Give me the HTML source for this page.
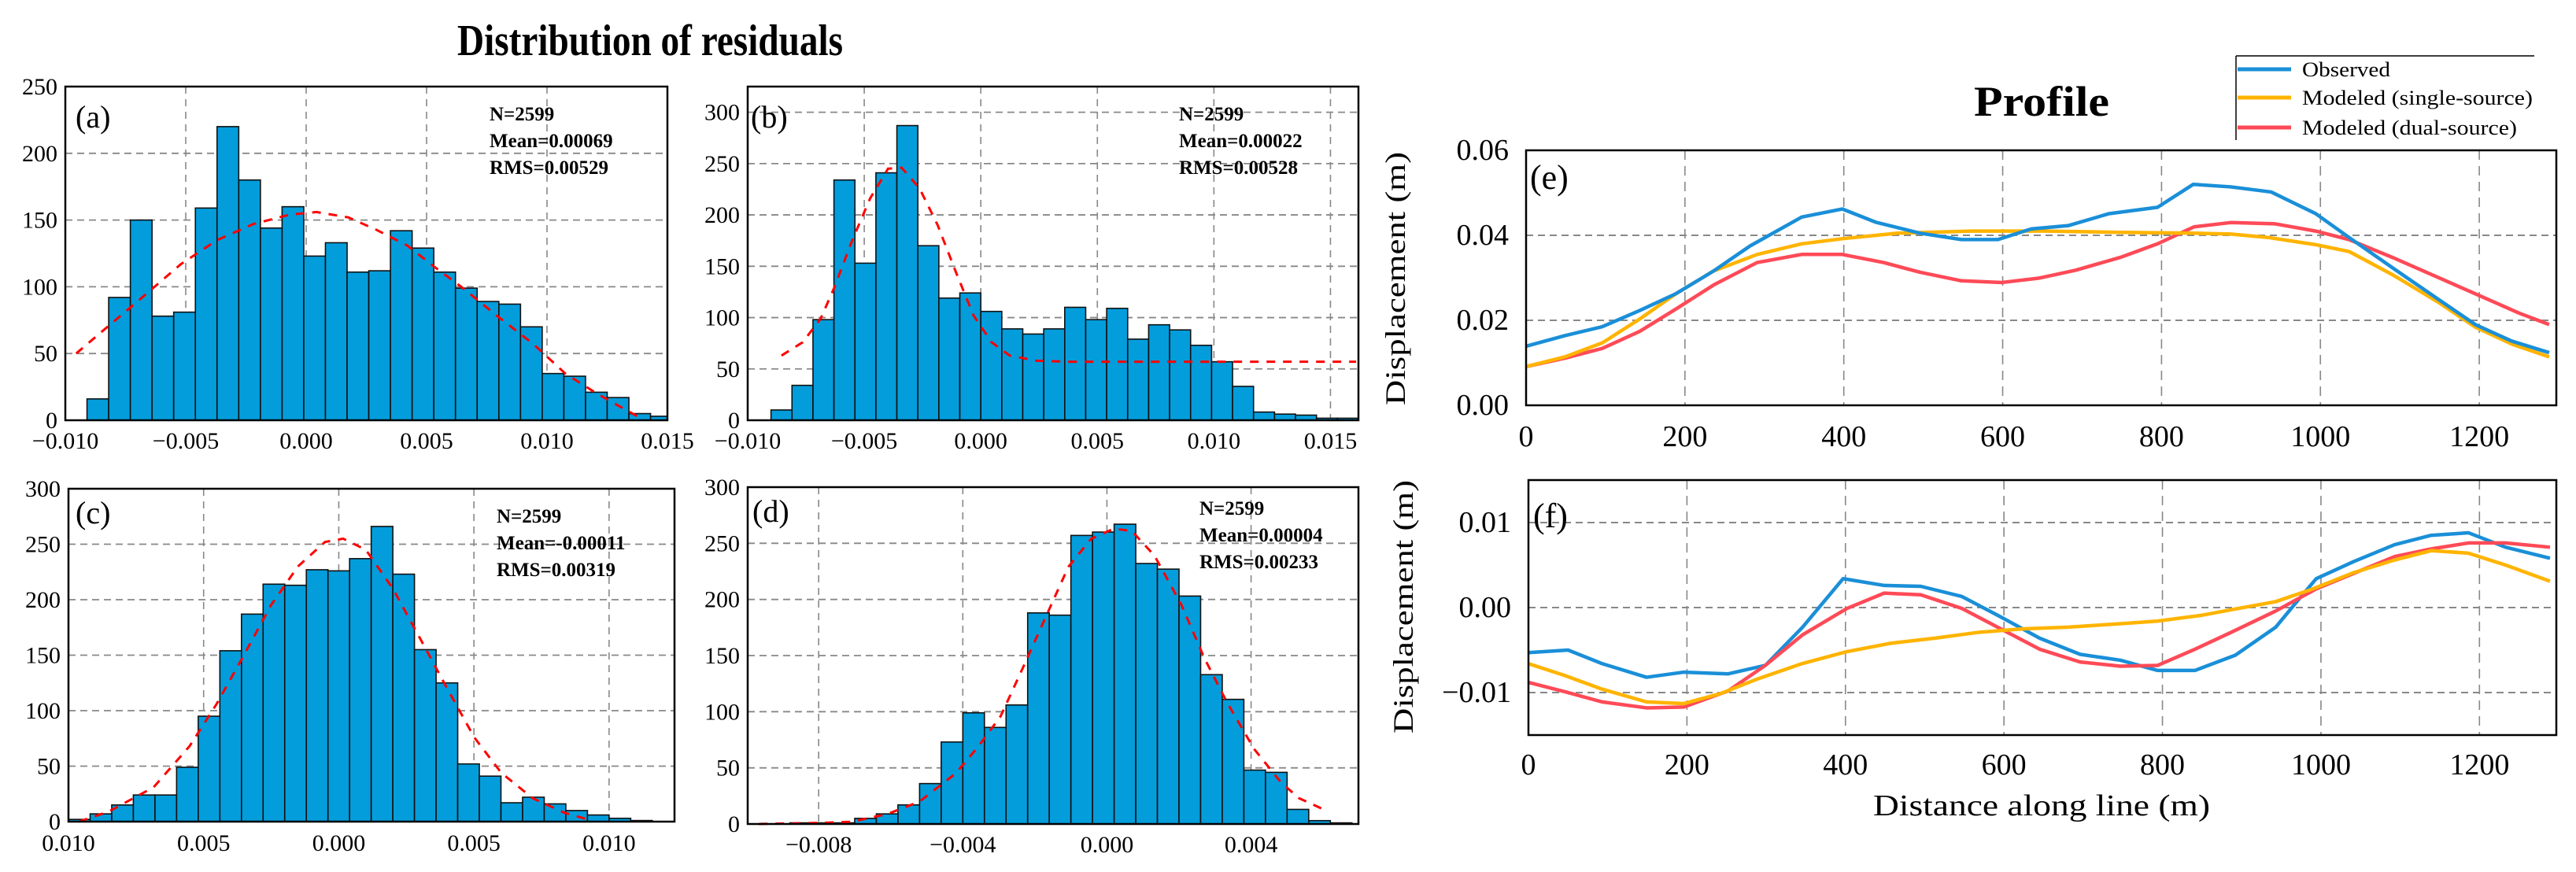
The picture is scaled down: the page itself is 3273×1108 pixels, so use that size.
<!DOCTYPE html>
<html><head><meta charset="utf-8"><style>
html,body{margin:0;padding:0;background:#fff;}
svg{display:block;font-family:"Liberation Serif",serif;}
</style></head><body>
<svg id="fig" width="3273" height="1108" viewBox="0 0 3273 1108" xmlns="http://www.w3.org/2000/svg">
<text x="826" y="70" font-size="56" font-weight="bold" text-anchor="middle" textLength="490" lengthAdjust="spacingAndGlyphs">Distribution of residuals</text>
<text x="2594" y="147" font-size="54" font-weight="bold" text-anchor="middle" textLength="172" lengthAdjust="spacingAndGlyphs">Profile</text>
<g id="legend">
<line x1="2841" y1="71" x2="3220" y2="71" stroke="#000" stroke-width="1.5"/>
<line x1="2841" y1="71" x2="2841" y2="178" stroke="#000" stroke-width="1.5"/>
<g><line x1="2843" y1="88" x2="2911" y2="88" stroke="#1a8fd8" stroke-width="5"/><text x="2925" y="97" font-size="26" textLength="112" lengthAdjust="spacingAndGlyphs">Observed</text></g>
<g><line x1="2843" y1="124" x2="2911" y2="124" stroke="#ffb400" stroke-width="5"/><text x="2925" y="133" font-size="26" textLength="293" lengthAdjust="spacingAndGlyphs">Modeled (single-source)</text></g>
<g><line x1="2843" y1="162" x2="2911" y2="162" stroke="#ff4a57" stroke-width="5"/><text x="2925" y="171" font-size="26" textLength="273" lengthAdjust="spacingAndGlyphs">Modeled (dual-source)</text></g>
</g>
<text transform="translate(1785,354) rotate(-90)" font-size="36" text-anchor="middle" textLength="322" lengthAdjust="spacingAndGlyphs">Displacement (m)</text>
<text transform="translate(1795,771) rotate(-90)" font-size="36" text-anchor="middle" textLength="322" lengthAdjust="spacingAndGlyphs">Displacement (m)</text>
<text x="2594" y="1036" font-size="38" text-anchor="middle" textLength="428" lengthAdjust="spacingAndGlyphs">Distance along line (m)</text>
</svg>
<script>
// ---- Panel (a) ----
const aCounts=[16,92,150,78,81,159,220,180,144,160,123,133,111,112,142,129,111,99,89,87,70,35,33,21,17,5,3];
const aBinStart=-0.0091, aBinWidth=0.0009;
const aCurveX=[-0.00955,-0.00838,-0.00707,-0.0052,-0.0037,-0.00219,-0.00069,0.00043,0.00175,0.00288,0.00419,0.00532,0.00644,0.00794,0.00944,0.01076,0.01207,0.01395];
const aCurveY=[50,68,88,117,135,147,154,156,152,143,131,115,100,78,57,35,20,1];
const aXTicks=[-0.010,-0.005,0,0.005,0.010,0.015];
const aXLabels=["\u22120.010","\u22120.005","0.000","0.005","0.010","0.015"];
const aYTicks=[0,50,100,150,200,250];
const aStats=["N=2599","Mean=0.00069","RMS=0.00529"];
// ---- Panel (b) ----
const bCounts=[10,34,98,234,153,241,287,170,119,124,106,89,84,89,110,98,109,79,93,88,73,57,33,8,6,5,2,2];
const bBinStart=-0.009, bBinWidth=0.0009;
const bCurveX=[-0.00855,-0.00764,-0.00687,-0.00629,-0.00552,-0.00475,-0.00398,-0.0034,-0.00263,-0.00185,-0.00108,-0.00031,0.00046,0.00124,0.00239,0.00375,0.0161];
const bCurveY=[63,76,99,129,175,216,245,246,226,190,145,102,76,63,58,57,57];
const bXTicks=[-0.010,-0.005,0,0.005,0.010,0.015];
const bXLabels=["\u22120.010","\u22120.005","0.000","0.005","0.010","0.015"];
const bYTicks=[0,50,100,150,200,250,300];
const bStats=["N=2599","Mean=0.00022","RMS=0.00528"];
// ---- Panel (c) ----
const cCounts=[2,7,15,24,24,49,95,154,187,214,213,227,226,237,266,223,155,125,52,41,17,22,16,10,6,3,1];
const cBinStart=-0.010, cBinWidth=0.0008;
const cCurveX=[-0.00961,-0.00852,-0.00685,-0.00552,-0.00452,-0.00351,-0.00251,-0.00151,-0.00051,0.00016,0.001,0.002,0.00301,0.00401,0.00501,0.00601,0.00718,0.00835,0.00935];
const cCurveY=[0,9,31,68,106,150,195,230,252,255,245,210,165,120,76,44,21,8,1];
const cXTicks=[-0.010,-0.005,0,0.005,0.010];
const cXLabels=["0.010","0.005","0.000","0.005","0.010"];
const cYTicks=[0,50,100,150,200,250,300];
const cStats=["N=2599","Mean=-0.00011","RMS=0.00319"];
// ---- Panel (d) ----
const dCounts=[1,1,1,5,9,17,36,73,99,86,106,188,186,257,260,267,232,227,203,133,111,48,46,13,3,1];
const dBinStart=-0.0088, dBinWidth=0.0006;
const dCurveX=[-0.00966,-0.00796,-0.00708,-0.00608,-0.0052,-0.0042,-0.00357,-0.00295,-0.00232,-0.00169,-0.00107,-0.00044,0.00019,0.00069,0.00132,0.00207,0.0027,0.00332,0.00408,0.00483,0.00533,0.00608];
const dCurveY=[0,1,2,9,20,45,69,96,140,185,229,254,263,261,239,195,148,109,67,37,23,12];
const dXTicks=[-0.008,-0.004,0,0.004];
const dXLabels=["\u22120.008","\u22120.004","0.000","0.004"];
const dYTicks=[0,50,100,150,200,250,300];
const dStats=["N=2599","Mean=0.00004","RMS=0.00233"];
// ---- Panel (e) ----
const eObsX=[0,49,96,143,189,236,282,347,398,440,496,548,594,636,683,734,795,840,887,938,994,1036,1092,1148,1195,1241,1288];
const eObsY=[13.9,16.4,18.5,22.3,26.3,31.6,37.5,44.3,46.2,43.1,40.5,39.0,39.0,41.5,42.3,45.1,46.6,52.0,51.4,50.2,45.1,39.5,32.2,25.0,19.0,15.1,12.4];
const eSingleX=[0,49,96,143,189,236,291,347,398,468,561,654,748,841,887,934,994,1036,1092,1148,1195,1241,1288];
const eSingleY=[9.1,11.4,14.7,20.3,26.3,31.6,35.5,38.0,39.2,40.5,41.0,41.0,40.7,40.5,40.3,39.5,37.8,36.2,30.6,24.3,18.4,14.4,11.4];
const eDualX=[0,49,96,143,189,236,291,347,398,450,496,548,599,645,692,748,795,841,887,943,994,1036,1092,1148,1204,1250,1288];
const eDualY=[9.1,11.1,13.4,17.4,22.7,28.3,33.6,35.5,35.5,33.6,31.3,29.3,28.9,29.9,31.8,34.8,38.0,42.0,43.0,42.7,41.0,39.0,34.7,30.1,25.5,21.7,19.0];
const eYTicks=[0,0.02,0.04,0.06];
const eYLabels=["0.00","0.02","0.04","0.06"];
// ---- Panel (f) ----
const fObsX=[0,50,93,149,196,252,299,346,397,449,495,547,598,645,696,747,794,841,892,943,966,994,1041,1093,1139,1186,1233,1289];
const fObsY=[-5.3,-5.0,-6.6,-8.2,-7.6,-7.8,-6.8,-2.3,3.4,2.6,2.5,1.3,-1.2,-3.6,-5.5,-6.2,-7.4,-7.4,-5.6,-2.3,0.3,3.4,5.4,7.4,8.5,8.8,7.1,5.8];
const fSingleX=[0,46,93,149,196,243,289,345,401,457,513,569,625,681,747,793,850,896,943,990,1041,1093,1139,1186,1233,1289];
const fSingleY=[-6.6,-8.0,-9.6,-11.1,-11.3,-10.1,-8.4,-6.6,-5.2,-4.2,-3.6,-2.9,-2.5,-2.3,-1.9,-1.6,-0.9,-0.1,0.7,2.2,4.1,5.6,6.7,6.4,5.0,3.1];
const fDualX=[0,46,93,149,196,252,299,346,402,449,495,547,598,645,696,747,794,841,887,943,994,1046,1093,1139,1186,1233,1289];
const fDualY=[-8.8,-9.9,-11.1,-11.8,-11.7,-9.8,-6.8,-3.2,-0.1,1.7,1.5,-0.1,-2.6,-4.9,-6.4,-6.9,-6.8,-4.9,-2.9,-0.4,2.2,4.2,6.0,6.9,7.6,7.6,7.1];
const fYTicks=[-0.01,0,0.01];
const fYLabels=["\u22120.01","0.00","0.01"];
const profXTicks=[0,200,400,600,800,1000,1200];

const NS="http://www.w3.org/2000/svg";
const svg=document.getElementById('fig');
function mk(tag,attrs,parent){const e=document.createElementNS(NS,tag);for(const k in attrs)e.setAttribute(k,attrs[k]);(parent||svg).appendChild(e);return e;}
function scale(d0,d1,r0,r1){return v=>r0+(v-d0)/(d1-d0)*(r1-r0);}

function hist(name,box,xd,yd,counts,binStart,binW,cx,cy,xt,xl,yt,stats,label,lblPos,statPos,xlabY){
  const g=mk('g',{});
  
  
  const X=scale(xd[0],xd[1],box[0],box[2]), Y=scale(yd[0],yd[1],box[3],box[1]);
  xt.forEach(v=>{const px=X(v);if(px>box[0]+3&&px<box[2]-3){const l=mk('line',{x1:px,y1:box[1],x2:px,y2:box[3],stroke:'#888','stroke-width':1.6,'stroke-dasharray':'9,7'},g);}});
  yt.forEach(v=>{const py=Y(v);if(py>box[1]+3&&py<box[3]-3){const l=mk('line',{x1:box[0],y1:py,x2:box[2],y2:py,stroke:'#888','stroke-width':1.8,'stroke-dasharray':'9,6'},g);}});
  counts.forEach((c,i)=>{const x0=X(binStart+i*binW),x1=Math.min(X(binStart+(i+1)*binW),box[2]);const r=mk('rect',{x:x0,y:Y(c),width:Math.max(0,x1-x0),height:box[3]-Y(c),fill:'#039ddc',stroke:'#111','stroke-width':1.6},g);});
  const pts=cx.map((v,i)=>X(v)+','+Y(cy[i])).join(' ');
  const pl=mk('polyline',{points:pts,fill:'none',stroke:'#ff0000','stroke-width':3,'stroke-dasharray':'11,10'},g);
  
  
  const fr=mk('rect',{x:box[0],y:box[1],width:box[2]-box[0],height:box[3]-box[1],fill:'none',stroke:'#000','stroke-width':2.5},g);
  
  
  xt.forEach((v,i)=>{const t=mk('text',{x:X(v),y:xlabY,'font-size':30,'text-anchor':'middle'},g);t.textContent=xl[i];});
  yt.forEach(v=>{const t=mk('text',{x:box[0]-10,y:Y(v)+10,'font-size':30,'text-anchor':'end'},g);t.textContent=String(v);});
  const lt=mk('text',{x:lblPos[0],y:lblPos[1],'font-size':40},g);lt.textContent=label;
  
  
  stats.forEach((s,i)=>{const t=mk('text',{x:statPos[0],y:statPos[1]+i*34,'font-size':25,'font-weight':'bold'},g);t.textContent=s;});
}

hist('histogram-a',[83,110,848,534],[-0.010,0.015],[0,250],aCounts,aBinStart,aBinWidth,aCurveX,aCurveY,aXTicks,aXLabels,aYTicks,aStats,'(a)',[96,162],[622,153],570);
hist('histogram-b',[950,110,1726,534],[-0.010,0.0162],[0,325],bCounts,bBinStart,bBinWidth,bCurveX,bCurveY,bXTicks,bXLabels,bYTicks,bStats,'(b)',[954,162],[1498,153],570);
hist('histogram-c',[87,621,857,1044],[-0.010,0.01242],[0,300],cCounts,cBinStart,cBinWidth,cCurveX,cCurveY,cXTicks,cXLabels,cYTicks,cStats,'(c)',[96,665],[631,664],1081);
hist('histogram-d',[950,619,1726,1047],[-0.00997,0.00698],[0,300],dCounts,dBinStart,dBinWidth,dCurveX,dCurveY,dXTicks,dXLabels,dYTicks,dStats,'(d)',[956,663],[1524,654],1083);

function profile(name,box,yd,yt,yl,series,label,lblPos,xlabY){
  const g=mk('g',{});
  
  
  const X=scale(0,1297,box[0],box[2]), Y=scale(yd[0],yd[1],box[3],box[1]);
  profXTicks.forEach(v=>{const px=X(v);if(px>box[0]+3){const l=mk('line',{x1:px,y1:box[1],x2:px,y2:box[3],stroke:'#888','stroke-width':1.6,'stroke-dasharray':'12,8'},g);}});
  yt.forEach(v=>{const py=Y(v);if(py>box[1]+3&&py<box[3]-3){const l=mk('line',{x1:box[0],y1:py,x2:box[2],y2:py,stroke:'#888','stroke-width':2,'stroke-dasharray':'9,6'},g);}});
  series.forEach(s=>{const pts=s.x.map((v,i)=>X(v)+','+Y(s.y[i]/1000)).join(' ');const p=mk('polyline',{points:pts,fill:'none',stroke:s.c,'stroke-width':4.5,'stroke-linejoin':'round'},g);});
  const fr=mk('rect',{x:box[0],y:box[1],width:box[2]-box[0],height:box[3]-box[1],fill:'none',stroke:'#000','stroke-width':2.5},g);
  
  
  profXTicks.forEach(v=>{const t=mk('text',{x:X(v),y:xlabY,'font-size':38,'text-anchor':'middle'},g);t.textContent=String(v);});
  yt.forEach((v,i)=>{const t=mk('text',{x:box[0]-22,y:Y(v)+12,'font-size':38,'text-anchor':'end'},g);t.textContent=yl[i];});
  const lt=mk('text',{x:lblPos[0],y:lblPos[1],'font-size':44},g);lt.textContent=label;
  
  
}
profile('profile-e',[1939,191,3248,515],[0,0.06],eYTicks,eYLabels,[
  {x:eDualX,y:eDualY,c:'#ff4a57',n:'line-dual-source'},
  {x:eSingleX,y:eSingleY,c:'#ffb400',n:'line-single-source'},
  {x:eObsX,y:eObsY,c:'#1a8fd8',n:'line-observed'}],'(e)',[1944,240],567);
profile('profile-f',[1942,610,3248,934],[-0.015,0.015],fYTicks,fYLabels,[
  {x:fObsX,y:fObsY,c:'#1a8fd8',n:'line-observed'},
  {x:fDualX,y:fDualY,c:'#ff4a57',n:'line-dual-source'},
  {x:fSingleX,y:fSingleY,c:'#ffb400',n:'line-single-source'}],'(f)',[1948,670],984);
</script>
</body></html>
